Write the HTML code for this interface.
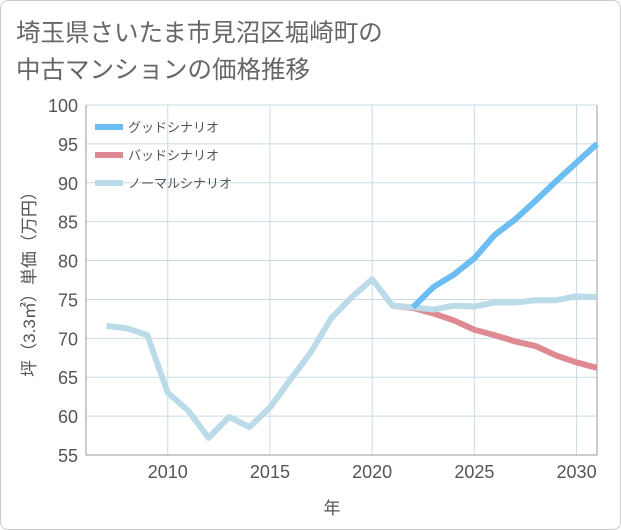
<!DOCTYPE html>
<html><head><meta charset="utf-8"><style>
body{margin:0;background:#fff;font-family:"Liberation Sans","Noto Sans CJK JP",sans-serif;}
#wrap{position:relative;width:619px;height:528px;border:1px solid #ccc;border-radius:8px;background:#fff;overflow:hidden}
#title{position:absolute;left:15px;top:14px;font-size:24.5px;line-height:37px;color:#666;}
</style></head><body>
<div id="wrap">
<div id="title">埼玉県さいたま市見沼区堀崎町の<br>中古マンションの価格推移</div>
<svg id="chart" width="621" height="530" style="position:absolute;left:-1px;top:-1px"></svg>
</div>
<script>
const years=[2007,2008,2009,2010,2011,2012,2013,2014,2015,2016,2017,2018,2019,2020,2021,2022,2023,2024,2025,2026,2027,2028,2029,2030,2031];
const normal=[71.6,71.3,70.4,63.0,60.7,57.2,59.9,58.6,61.1,64.7,68.2,72.6,75.3,77.6,74.2,74.0,73.7,74.2,74.1,74.6,74.6,74.9,74.9,75.4,75.3];
const goodYears=[2021,2022,2023,2024,2025,2026,2027,2028,2029,2030,2031];
const good=[74.2,74.0,76.6,78.2,80.3,83.3,85.3,87.7,90.2,92.6,95.0];
const bad=[74.2,73.9,73.2,72.3,71.1,70.4,69.6,69.0,67.8,66.9,66.2];
const yTicks=[55,60,65,70,75,80,85,90,95,100];
const xTicks=[2010,2015,2020,2025,2030];
const NS="http://www.w3.org/2000/svg",svg=document.getElementById('chart');
const L=86,R=597,T=105,B=455;
const xs=v=>L+(v-2006)*(R-L)/25;
const ys=v=>B-(v-55)*(B-T)/45;
function mk(t,a){const e=document.createElementNS(NS,t);for(const k in a)e.setAttribute(k,a[k]);svg.appendChild(e);return e;}
yTicks.forEach(v=>{
 const l=mk('line',{x1:L,x2:R,y1:ys(v),y2:ys(v),stroke:'#c9dbe6','stroke-width':1});
 
 
 const t=mk('text',{x:78,y:ys(v)+7,'text-anchor':'end','font-size':18,fill:'#555'});t.textContent=v;
 
 
});
xTicks.forEach(v=>{
 const l=mk('line',{x1:xs(v),x2:xs(v),y1:T,y2:B,stroke:'#c9dbe6','stroke-width':1});
 
 
 const t=mk('text',{x:xs(v),y:478,'text-anchor':'middle','font-size':18,fill:'#555'});t.textContent=v;
 
 
});
const ax=mk('path',{d:`M${L},${T}V${B}H${R}V${T}`,stroke:'#999',fill:'none','stroke-width':1});


function line(xv,yv,c,n){const p=mk('polyline',{points:xv.map((x,i)=>xs(x)+','+ys(yv[i])).join(' '),fill:'none',stroke:c,'stroke-width':6,'stroke-linejoin':'round'});
 
 }
line(goodYears,bad,'#df8a92','bad-scenario-line');
line(years,normal,'#bcdbe9','normal-scenario-line');
line(goodYears.slice(1),good.slice(1),'#6cbdf2','good-scenario-line');
[['グッドシナリオ','#6cbdf2'],['バッドシナリオ','#df8a92'],['ノーマルシナリオ','#bcdbe9']].forEach((e,i)=>{
 const y=127+i*28;
 const l=mk('line',{x1:95,x2:123,y1:y,y2:y,stroke:e[1],'stroke-width':6});
 
 
 const t=mk('text',{x:128,y:y+5,'font-size':13,fill:'#555'});t.textContent=e[0];
 
 
});
const xt=mk('text',{x:332,y:514,'text-anchor':'middle','font-size':17,fill:'#555'});xt.textContent='年';


const yt=mk('text',{x:0,y:0,'text-anchor':'middle','font-size':17,fill:'#555',transform:'translate(35,280) rotate(-90)'});yt.textContent='坪（3.3㎡）単価（万円）';


</script>
</body></html>
